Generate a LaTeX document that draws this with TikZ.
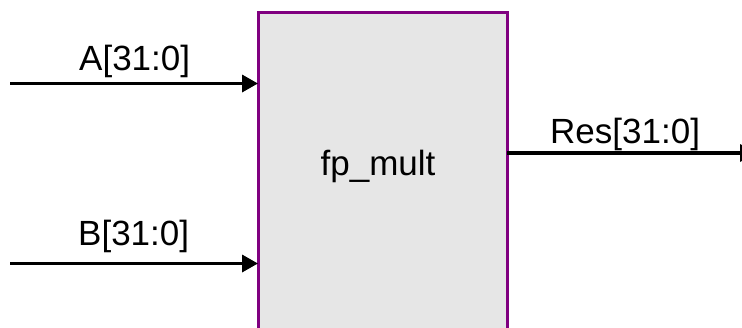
\documentclass[tikz,border=0pt]{standalone}
\usepackage{fontspec}
\setmainfont{Liberation Sans}
\usetikzlibrary{arrows.meta}
\definecolor{blockfill}{HTML}{E6E6E6}
\definecolor{blockedge}{HTML}{800080}
\begin{document}
\begin{tikzpicture}[x=1pt,y=-1pt,
  block/.style={draw=blockedge,line width=3pt,fill=blockfill,rectangle,
    minimum width=249pt,minimum height=330pt,inner sep=0pt,outer sep=0pt},
  sig/.style={line width=3.4pt,-{Triangle[length=16pt,width=17pt]}},
  lbl/.style={font=\fontsize{35}{42}\selectfont,inner sep=0pt,anchor=base west}]
  \useasboundingbox (0,0) rectangle (742,327);
  \clip (0,0) rectangle (742,327);
  % multiplier block (its lower edge runs off the page)
  \node[block] (mult) at (382.5,177) {};
  \node[font=\fontsize{35}{42}\selectfont,inner sep=0pt,anchor=base] (name) at (378,175) {fp\_mult};
  % input and output ends
  \coordinate (ain) at (10,83.5);
  \coordinate (bin) at (10,263.5);
  \coordinate (rout) at (756,153);
  \draw[sig] (ain) -- (mult.west |- ain);
  \draw[sig] (bin) -- (mult.west |- bin);
  \draw[sig] (mult.east |- rout) -- (rout);
  % signal labels
  \node[lbl] (alab) at (79,70) {A[31:0]};
  \node[lbl] (blab) at (78,245) {B[31:0]};
  \node[lbl] (rlab) at (550,143) {Res[31:0]};
\end{tikzpicture}
\end{document}
